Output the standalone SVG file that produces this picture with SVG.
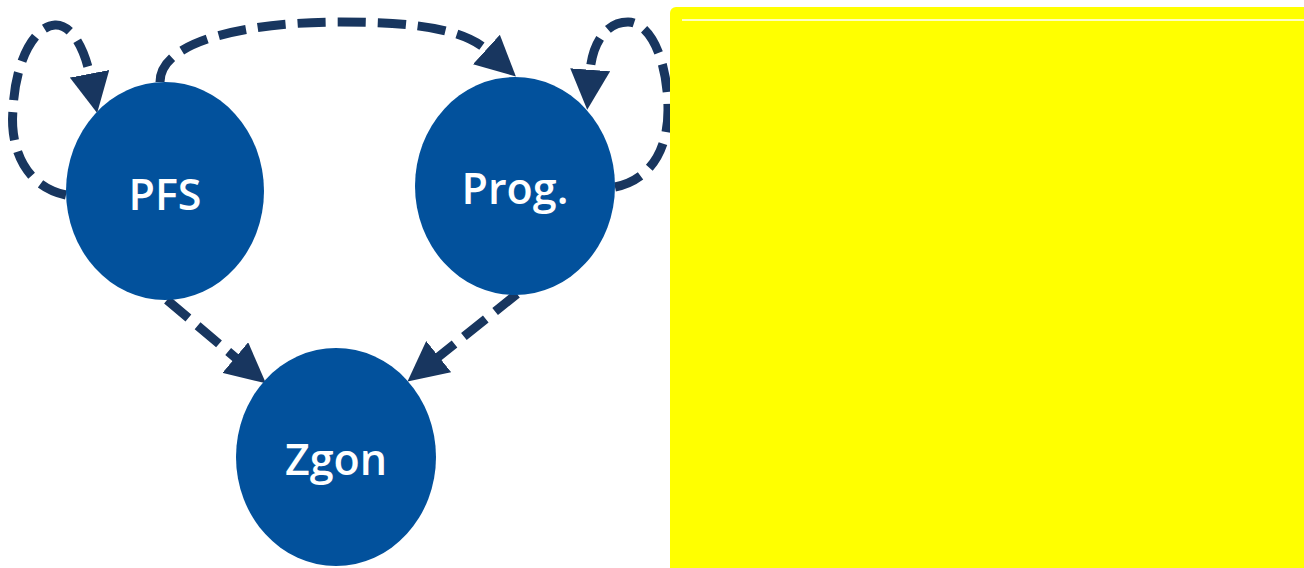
<svg xmlns="http://www.w3.org/2000/svg" width="1304" height="568" viewBox="0 0 1304 568">
<style>
.node{fill:#02519c}
.lbl{fill:#ffffff;font-family:"Open Sans","Liberation Sans",sans-serif;font-weight:600;font-size:43px;text-anchor:middle}
.edge{fill:none;stroke:#18365f;stroke-width:9;stroke-dasharray:28 12}
</style>
<defs>
<marker id="ah" markerUnits="userSpaceOnUse" markerWidth="40" markerHeight="40" viewBox="0 0 36 36" refX="2" refY="18" orient="auto">
<path d="M0,0 L36,18 L0,36 Z" fill="#18365f"/>
</marker>
</defs>
<rect width="1304" height="568" fill="#ffffff"/>
<g id="connectors">
<path class="edge" marker-end="url(#ah)" d="M66,195 C20,185 10,140 13,110 C15,60 35,26 55,25 C72,24 85,50 90,76"/>
<path class="edge" marker-end="url(#ah)" d="M160,82 C160,40 250,22 340,22 C420,22 465,30 488,51"/>
<path class="edge" marker-end="url(#ah)" d="M615,187 C650,180 668,150 668,110 C668,60 650,22 628,22 C605,22 592,45 590,72"/>
<path class="edge" marker-end="url(#ah)" d="M167,300 L237,359"/>
<path class="edge" marker-end="url(#ah)" d="M517,294 L437,358"/>
</g>
<g id="node-pfs">
<ellipse class="node" cx="165" cy="191" rx="99" ry="109"/>
<text class="lbl" x="165" y="210">PFS</text>
</g>
<g id="node-prog">
<ellipse class="node" cx="515" cy="186" rx="100" ry="109"/>
<text class="lbl" x="515" y="204">Prog.</text>
</g>
<g id="node-zgon">
<ellipse class="node" cx="336" cy="457" rx="100" ry="109"/>
<text class="lbl" x="336" y="475">Zgon</text>
</g>
<g id="panel">
<rect x="670" y="7" width="640" height="570" rx="6" fill="#ffff00"/>
<line x1="682" y1="20" x2="1304" y2="20" stroke="#ffffff" stroke-width="1.5"/>
</g>
</svg>
